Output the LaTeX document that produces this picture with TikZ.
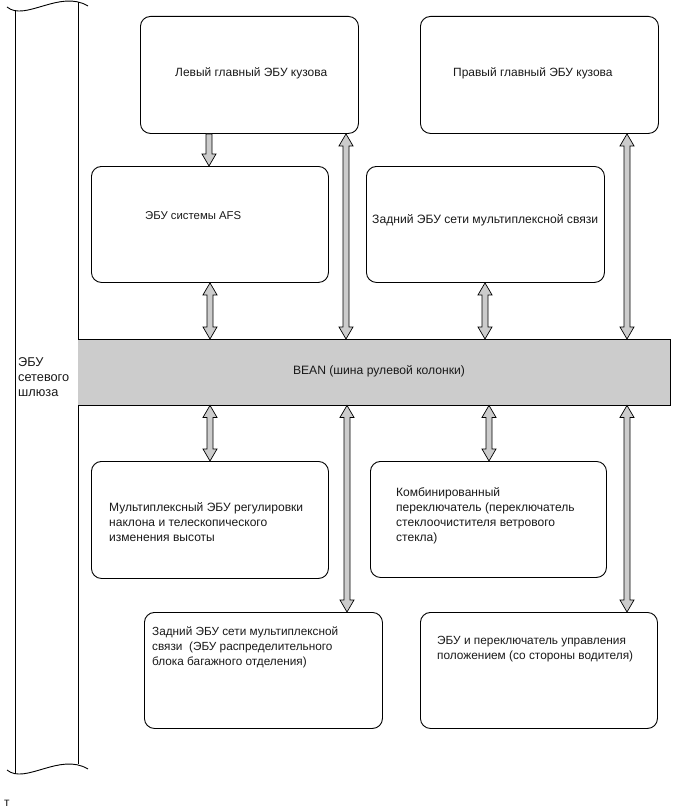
\documentclass[tikz,border=0pt]{standalone}
\usepackage{fontspec}
\setmainfont{Liberation Sans}
\usetikzlibrary{calc}
\newlength\mwlen
\newcommand\calcsize[3]{%
  \settowidth\mwlen{\normalfont\fontsize{10}{12}\selectfont #2}%
  \pgfmathsetmacro#1{10*#3/\mwlen}\global\let#1#1}
\AtBeginDocument{%
\calcsize{\fA}{Левый главный ЭБУ кузова}{152}%
\calcsize{\fBus}{BEAN (шина рулевой колонки)}{172}%
\calcsize{\fC}{ЭБУ системы AFS}{96}%
\calcsize{\fD}{Задний ЭБУ сети мультиплексной связи}{226}%
\calcsize{\fE}{Мультиплексный ЭБУ регулировки}{194}%
\calcsize{\fG}{Задний ЭБУ сети мультиплексной}{186}%
\calcsize{\fH}{положением (со стороны водителя)}{196}%
\calcsize{\fW}{сетевого}{51}}
\newcommand\dblarrow[3]{%
  \path[blockarrow] let \p1=(#2), \p2=(#3) in
    (#1pt,\y1) -- (#1pt+7pt,\y1-12pt) -- (#1pt+3pt,\y1-12pt) -- (#1pt+3pt,\y2+12pt)
    -- (#1pt+7pt,\y2+12pt) -- (#1pt,\y2) -- (#1pt-7pt,\y2+12pt) -- (#1pt-3pt,\y2+12pt)
    -- (#1pt-3pt,\y1-12pt) -- (#1pt-7pt,\y1-12pt) -- cycle;}
\newcommand\downarrowblk[3]{%
  \path[blockarrow] let \p1=(#2), \p2=(#3) in
    (#1pt-3pt,\y1) -- (#1pt+3pt,\y1) -- (#1pt+3pt,\y2+12pt)
    -- (#1pt+7pt,\y2+12pt) -- (#1pt,\y2) -- (#1pt-7pt,\y2+12pt) -- (#1pt-3pt,\y2+12pt) -- cycle;}
\begin{document}
\begin{tikzpicture}[x=1pt,y=-1pt,
  ecu/.style={draw, line width=0.9pt, rounded corners=10pt, inner sep=0pt, anchor=north west},
  lbl/.style={align=left, inner sep=0pt, anchor=north west, text=black!90},
  blockarrow/.style={draw, fill=black!20, line width=0.7pt, line join=miter},
  frame/.style={draw, line width=0.9pt}]
\useasboundingbox (0,0) rectangle (673,808);
% bus
\node[fill=black!20, inner sep=0pt, minimum width=592, minimum height=66, anchor=north west] (bus) at (78,339) {};
\node[lbl, anchor=base, font=\fontsize{\fBus}{15}\selectfont] (bustxt) at (379,374) {BEAN (шина рулевой колонки)};
% gateway frame
\draw[frame] (15,11) -- (15,774);
\draw[frame] (78,2) -- (78,339) -- (670,339) -- (670,405) -- (78,405) -- (78,764);
\draw[frame] (7,7) .. controls (25,22) and (60,-11) .. (88,6);
\draw[frame] (7,770) .. controls (25,785) and (60,752) .. (88,769);
\node[lbl, font=\fontsize{\fW}{15}\selectfont] (gwtxt) at (18,357) {ЭБУ\\сетевого\\шлюза};
% boxes
\node[ecu, minimum width=218, minimum height=117] (b1) at (140,16) {};
\node[ecu, minimum width=238, minimum height=117] (b2) at (420,16) {};
\node[ecu, minimum width=237, minimum height=116] (b3) at (91,166) {};
\node[ecu, minimum width=238, minimum height=116] (b4) at (366,166) {};
\node[ecu, minimum width=237, minimum height=117] (b5) at (91,461) {};
\node[ecu, minimum width=236, minimum height=116] (b6) at (370,461) {};
\node[ecu, minimum width=238, minimum height=116] (b7) at (144,612) {};
\node[ecu, minimum width=237, minimum height=116] (b8) at (420,612) {};
% texts
\node[lbl, anchor=base west, font=\fontsize{\fA}{15}\selectfont] (t1) at (175,76) {Левый главный ЭБУ кузова};
\node[lbl, anchor=base west, font=\fontsize{\fA}{15}\selectfont] (t2) at (453,77) {Правый главный ЭБУ кузова};
\node[lbl, anchor=base west, font=\fontsize{\fC}{15}\selectfont] (t3) at (145,219) {ЭБУ системы AFS};
\node[lbl, anchor=base west, font=\fontsize{\fD}{15}\selectfont] (t4) at (372,223) {Задний ЭБУ сети мультиплексной связи};
\node[lbl, font=\fontsize{\fE}{15}\selectfont] (t5) at (109,502) {Мультиплексный ЭБУ регулировки\\наклона и телескопического\\изменения высоты};
\node[lbl, font=\fontsize{\fE}{15}\selectfont] (t6) at (396,487) {Комбинированный\\переключатель (переключатель\\стеклоочистителя ветрового\\стекла)};
\node[lbl, font=\fontsize{\fG}{15}\selectfont] (t7) at (152,627) {Задний ЭБУ сети мультиплексной\\связи\ \ (ЭБУ распределительного\\блока багажного отделения)};
\node[lbl, font=\fontsize{\fH}{15}\selectfont] (t8) at (437,636) {ЭБУ и переключатель управления\\положением (со стороны водителя)};
\node[lbl, anchor=base west, font=\fontsize{\fA}{15}\selectfont] (tt) at (4,806) {т};
% arrows
\downarrowblk{209}{b1.south}{b3.north}
\dblarrow{346}{b1.south}{bus.north}
\dblarrow{627}{b2.south}{bus.north}
\dblarrow{210}{b3.south}{bus.north}
\dblarrow{485}{b4.south}{bus.north}
\dblarrow{210}{bus.south}{b5.north}
\dblarrow{347}{bus.south}{b7.north}
\dblarrow{489}{bus.south}{b6.north}
\dblarrow{627}{bus.south}{b8.north}
\end{tikzpicture}
\end{document}
